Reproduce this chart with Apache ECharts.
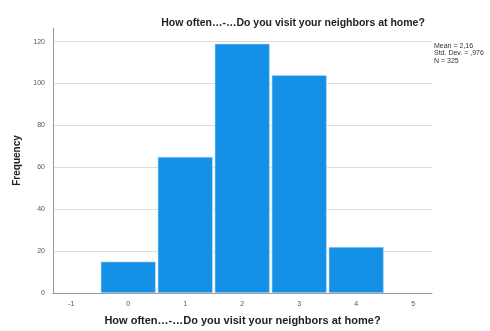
<!DOCTYPE html>
<html>
<head>
<meta charset="utf-8">
<script src="https://cdn.jsdelivr.net/npm/echarts@6/dist/echarts.min.js"></script>
<style>
  html, body { margin: 0; padding: 0; background: #fff; }
  #chart { width: 490px; height: 331px; }
</style>
</head>
<body>
<div id="chart"></div>
<script>
const titleText = 'How often…-…Do you visit your neighbors at home?'
const categories = [0, 1, 2, 3, 4]
const frequencies = [15, 65, 119, 104, 22]
const xTicks = [-1, 0, 1, 2, 3, 4, 5]
const statsLines = ['Mean = 2,16', 'Std. Dev. = ,976', 'N = 325']

const chart = echarts.init(document.getElementById('chart'))

const option = {
  animation: false,
  textStyle: { fontFamily: 'Liberation Sans, Arial, sans-serif' },
  title: {
    text: titleText,
    left: 288,
    top: 13,
    textAlign: 'center',
    textStyle: { fontSize: 10.5, fontWeight: 'bold', color: '#222' }
  },
  graphic: [
    {
      type: 'text',
      left: 434,
      top: 42,
      style: {
        text: statsLines.join('\n'),
        font: '7px Liberation Sans, Arial, sans-serif',
        fill: '#333',
        lineHeight: 7.5
      }
    }
  ],
  grid: { left: 53, right: 58, top: 28, bottom: 33 },
  xAxis: {
    type: 'value',
    min: -1.32,
    max: 5.33,
    name: titleText,
    nameLocation: 'middle',
    nameGap: 22,
    nameTextStyle: { fontSize: 11, fontWeight: 'bold', color: '#222' },
    axisLine: { show: true, lineStyle: { color: '#999' } },
    axisTick: { show: false },
    splitLine: { show: false },
    axisLabel: {
      customValues: xTicks,
      fontSize: 7,
      color: '#555',
      margin: 8
    }
  },
  yAxis: {
    type: 'value',
    min: 0,
    max: 126.5,
    interval: 20,
    name: 'Frequency',
    nameLocation: 'middle',
    nameGap: 27,
    nameTextStyle: { fontSize: 10, fontWeight: 'bold', color: '#222' },
    axisLine: { show: true, onZero: false, lineStyle: { color: '#999' } },
    axisTick: { show: false },
    axisLabel: {
      fontSize: 7,
      color: '#555',
      margin: 8,
      formatter: v => (v % 20 === 0 ? String(v) : '')
    },
    splitLine: {
      show: true,
      lineStyle: {
        color: ['#ddd', '#ddd', '#ddd', '#ddd', '#ddd', '#ddd', '#ddd', 'rgba(0,0,0,0)']
      }
    }
  },
  series: [
    {
      type: 'bar',
      data: categories.map((c, i) => [c, frequencies[i]]),
      barWidth: 55,
      itemStyle: {
        color: '#1491e6',
        borderColor: '#b9dcf5',
        borderWidth: 0.6
      }
    }
  ]
}

chart.setOption(option)
</script>
</body>
</html>
